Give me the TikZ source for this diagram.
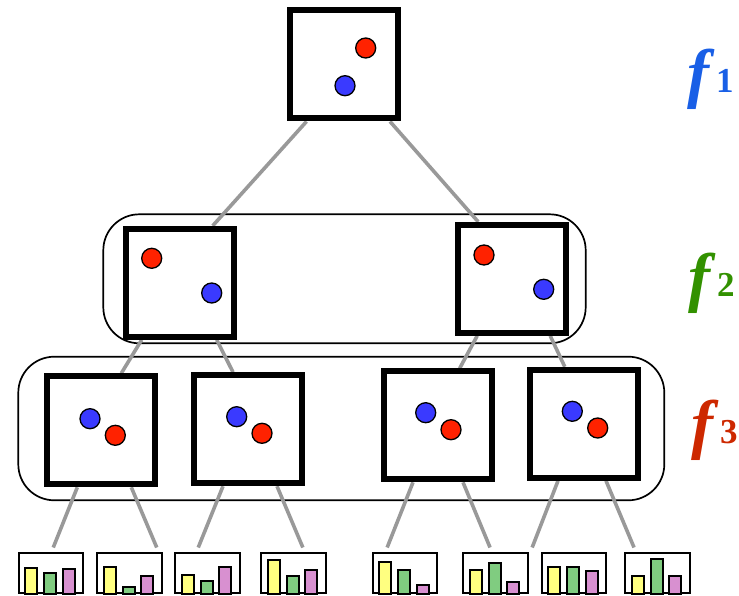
\documentclass[tikz,border=0pt]{standalone}
\usepackage{fontspec}
\newfontfamily\lblfont{Liberation Serif}
\usetikzlibrary{calc}
\pgfdeclarelayer{background}
\pgfsetlayers{background,main}
\definecolor{dotred}{RGB}{255,34,0}
\definecolor{dotblue}{RGB}{58,58,255}
\definecolor{byellow}{RGB}{255,255,128}
\definecolor{bgreen}{RGB}{128,204,128}
\definecolor{bpink}{RGB}{216,144,208}
\definecolor{conngray}{RGB}{153,153,153}
\definecolor{fblue}{RGB}{25,95,230}
\definecolor{fgreen}{RGB}{50,145,0}
\definecolor{fred}{RGB}{205,40,0}
\tikzset{
  bigbox/.style={draw=black, line width=6pt, fill=white, minimum width=108pt, minimum height=108pt, inner sep=0pt},
  group/.style={draw=black, line width=1.7pt, rounded corners=36pt},
  conn/.style={draw=conngray, line width=3.6pt},
  reddot/.style={draw=black, line width=1.3pt, fill=dotred},
  bluedot/.style={draw=black, line width=1.3pt, fill=dotblue},
  chartbox/.style={draw=black, line width=2pt, fill=white, minimum width=64.5pt, minimum height=40pt, inner sep=0pt},
  barbox/.style={draw=black, line width=2pt},
  flabel/.style={anchor=base west, inner sep=0pt, font=\lblfont\bfseries}
}
\newcommand\mychart[5]{%
  \node[chartbox] (#1) at (#2,573) {};
  \draw[barbox, fill=byellow] ($(#1.south west)+(7.5,0)$) rectangle ($(#1.south west)+(19.5,-#3)$);
  \draw[barbox, fill=bgreen] ($(#1.south west)+(26.5,0)$) rectangle ($(#1.south west)+(38.5,-#4)$);
  \draw[barbox, fill=bpink] ($(#1.south west)+(45,0)$) rectangle ($(#1.south west)+(57,-#5)$);
}
\newcommand\mydot[3]{\draw[#1] (#2,#3) circle[radius=10pt];}
\newcommand\flab[1]{{\itshape\fontsize{66}{66}\selectfont f}\hspace{7pt}\raisebox{3pt}{\fontsize{35}{35}\selectfont #1}}
\begin{document}
\begin{tikzpicture}[x=1pt,y=-1pt]
\useasboundingbox (0,0) rectangle (739,596);
% boxes
\node[bigbox] (t) at (343.5,64.5) {};
\node[bigbox] (a) at (179.7,282.8) {};
\node[bigbox] (b) at (512.2,278.8) {};
\node[bigbox] (c) at (101.3,430.3) {};
\node[bigbox] (d) at (248,429.2) {};
\node[bigbox] (e) at (437.7,425.3) {};
\node[bigbox] (f) at (583.8,423.8) {};
% charts
\mychart{k1}{50.95}{26}{21}{25.3}
\mychart{k2}{129.25}{27}{6.7}{17.7}
\mychart{k3}{207.55}{19.3}{12.7}{26.7}
\mychart{k4}{293.25}{34}{18}{23.7}
\mychart{k5}{404.95}{32}{23.7}{8.7}
\mychart{k6}{495.55}{23.7}{30.7}{11.7}
\mychart{k7}{573.95}{27}{27}{23.3}
\mychart{k8}{657.55}{17.7}{35.3}{17.7}
\begin{pgfonlayer}{background}
% groups
\draw[group] (103.3,214.3) rectangle (585.7,343.3);
\draw[group] (18.3,356.7) rectangle (664.3,500.3);
% connectors
\path[conn] ([xshift=-37pt]t.south) -- ([xshift=33pt]a.north);
\path[conn] ([xshift=46.5pt]t.south) -- ([xshift=-34pt]b.north);
\path[conn] ([xshift=-38pt]a.south) -- ([xshift=20pt]c.north);
\path[conn] ([xshift=37pt]a.south) -- ([xshift=-15pt]d.north);
\path[conn] ([xshift=-35pt]b.south) -- ([xshift=22pt]e.north);
\path[conn] ([xshift=38pt]b.south) -- ([xshift=-19pt]f.north);
\path[conn] ([xshift=-24pt]c.south) -- ([xshift=2.3pt,yshift=4.5pt]k1.north);
\path[conn] ([xshift=30pt]c.south) -- ([xshift=27.5pt,yshift=4.5pt]k2.north);
\path[conn] ([xshift=-25pt]d.south) -- ([xshift=-9.3pt,yshift=4.5pt]k3.north);
\path[conn] ([xshift=29pt]d.south) -- ([xshift=9.6pt,yshift=4.5pt]k4.north);
\path[conn] ([xshift=-24.7pt]e.south) -- ([xshift=-17.8pt,yshift=4.5pt]k5.north);
\path[conn] ([xshift=25.3pt]e.south) -- ([xshift=-5.5pt,yshift=4.5pt]k6.north);
\path[conn] ([xshift=-25.8pt]f.south) -- ([xshift=-41.8pt,yshift=4.5pt]k7.north);
\path[conn] ([xshift=22.2pt]f.south) -- ([xshift=-23.5pt,yshift=4.5pt]k8.north);
\end{pgfonlayer}
% dots
\mydot{reddot}{365.7}{48}
\mydot{bluedot}{345}{85.7}
\mydot{reddot}{151.7}{258.3}
\mydot{bluedot}{211.7}{293}
\mydot{reddot}{484}{255}
\mydot{bluedot}{543.7}{289.3}
\mydot{bluedot}{90}{418.7}
\mydot{reddot}{115.3}{435.3}
\mydot{bluedot}{236.7}{416.7}
\mydot{reddot}{262}{433.3}
\mydot{bluedot}{425.7}{412.7}
\mydot{reddot}{451}{429.7}
\mydot{bluedot}{572.3}{411.3}
\mydot{reddot}{597.7}{428}
% labels
\node[flabel, text=fblue] (l1) at (687,96) {\flab{1}};
\node[flabel, text=fgreen] (l2) at (688,299) {\flab{2}};
\node[flabel, text=fred] (l3) at (691,446) {\flab{3}};
\end{tikzpicture}
\end{document}
